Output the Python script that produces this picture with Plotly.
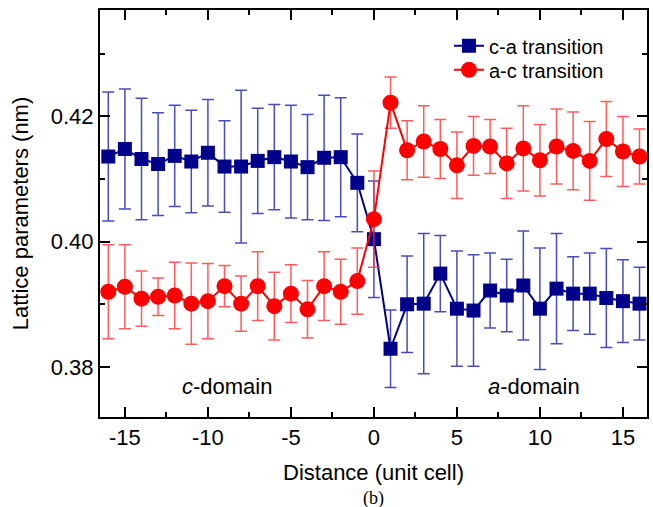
import plotly.graph_objects as go

distance = list(range(-16, 17))

ca_values = [0.4136, 0.4148, 0.4132, 0.4124, 0.4137, 0.4128, 0.4142, 0.4120,
             0.4120, 0.4129, 0.4135, 0.4128, 0.4119, 0.4134, 0.4135, 0.4094,
             0.4004, 0.3829, 0.3900, 0.3901, 0.3949, 0.3893, 0.3890, 0.3922,
             0.3914, 0.3930, 0.3893, 0.3925, 0.3917, 0.3917, 0.3910, 0.3905, 0.3901]
ca_errors = [0.0103, 0.0096, 0.0097, 0.0082, 0.0081, 0.0082, 0.0085, 0.0073,
             0.0122, 0.0084, 0.0084, 0.0090, 0.0084, 0.0100, 0.0095, 0.0078,
             0.0093, 0.0062, 0.0077, 0.0112, 0.0061, 0.0092, 0.0089, 0.0060,
             0.0058, 0.0087, 0.0097, 0.0088, 0.0059, 0.0065, 0.0079, 0.0066, 0.0058]

ac_values = [0.3920, 0.3928, 0.3909, 0.3912, 0.3914, 0.3901, 0.3905, 0.3929,
             0.3901, 0.3929, 0.3897, 0.3917, 0.3892, 0.3929, 0.3920, 0.3937,
             0.4036, 0.4222, 0.4146, 0.4160, 0.4148, 0.4122, 0.4153, 0.4152,
             0.4125, 0.4149, 0.4130, 0.4152, 0.4145, 0.4129, 0.4164, 0.4144, 0.4136]
ac_errors = [0.0075, 0.0067, 0.0044, 0.0030, 0.0053, 0.0065, 0.0060, 0.0033,
             0.0044, 0.0055, 0.0054, 0.0046, 0.0046, 0.0055, 0.0052, 0.0053,
             0.0077, 0.0041, 0.0047, 0.0057, 0.0047, 0.0053, 0.0047, 0.0043,
             0.0056, 0.0068, 0.0057, 0.0060, 0.0062, 0.0063, 0.0060, 0.0056, 0.0044]

x_tickvals = [-15, -10, -5, 0, 5, 10, 15]
x_ticktext = ["-15", "-10", "-5", "0", "5", "10", "15"]
y_tickvals = [0.38, 0.40, 0.42]
y_ticktext = ["0.38", "0.40", "0.42"]

FONT = "Liberation Sans, Arial, sans-serif"
BLUE = "#00008B"
RED = "#FF0000"

fig = go.Figure()
fig.add_trace(go.Scatter(
    x=distance, y=ca_values, name="c-a transition", mode="lines+markers",
    line=dict(color=BLUE, width=2),
    marker=dict(symbol="square", size=14, color=BLUE),
    error_y=dict(type="data", array=ca_errors, visible=True,
                 color="rgba(30,30,175,0.8)", thickness=1.5, width=6),
    legend="legend",
))
fig.add_trace(go.Scatter(
    x=distance, y=ac_values, name="a-c transition", mode="lines+markers",
    line=dict(color=RED, width=2),
    marker=dict(symbol="circle", size=16, color=RED),
    error_y=dict(type="data", array=ac_errors, visible=True,
                 color="rgba(255,50,50,0.8)", thickness=1.5, width=6),
    legend="legend2",
))

axis_common = dict(
    showline=True, linecolor="black", linewidth=2, mirror="ticks",
    ticks="inside", ticklen=10, tickwidth=1.5, tickcolor="black",
    showgrid=False, zeroline=False,
    tickfont=dict(family=FONT, size=22, color="black"),
)

fig.update_xaxes(
    range=[-16.5, 16.45], tickvals=x_tickvals, ticktext=x_ticktext,
    minor=dict(dtick=2.5, tick0=0, ticks="inside", ticklen=5, tickwidth=1.5, tickcolor="black"),
    title=dict(text="Distance (unit cell)", font=dict(family=FONT, size=22, color="black"), standoff=15),
    **axis_common,
)
fig.update_yaxes(
    range=[0.372, 0.437], tickvals=y_tickvals, ticktext=y_ticktext,
    minor=dict(dtick=0.01, tick0=0.38, ticks="inside", ticklen=5, tickwidth=1.5, tickcolor="black"),
    title=dict(text="Lattice parameters (nm)", font=dict(family=FONT, size=22, color="black"), standoff=16),
    **axis_common,
)

fig.add_annotation(x=-8.87, y=0.3768, xref="x", yref="y", showarrow=False,
                   text="<i>c</i>-domain", font=dict(family=FONT, size=22, color="black"))
fig.add_annotation(x=9.65, y=0.3768, xref="x", yref="y", showarrow=False,
                   text="<i>a</i>-domain", font=dict(family=FONT, size=22, color="black"))
fig.add_annotation(x=-0.05, y=-0.2, xref="x", yref="paper", yanchor="middle", showarrow=False,
                   text="(b)", font=dict(family="Liberation Serif, Times New Roman, serif", size=18, color="black"))

legend_style = dict(xanchor="left", yanchor="middle", bgcolor="rgba(0,0,0,0)",
                    font=dict(family=FONT, size=20, color="black"), itemwidth=30,
                    borderwidth=0)

fig.update_layout(
    width=653, height=507,
    margin=dict(l=100, r=6, t=10, b=90, autoexpand=False),
    paper_bgcolor="white", plot_bgcolor="white",
    showlegend=True,
    legend=dict(x=0.638, y=0.912, **legend_style),
    legend2=dict(x=0.638, y=0.853, **legend_style),
)

fig.write_html("out.html")
